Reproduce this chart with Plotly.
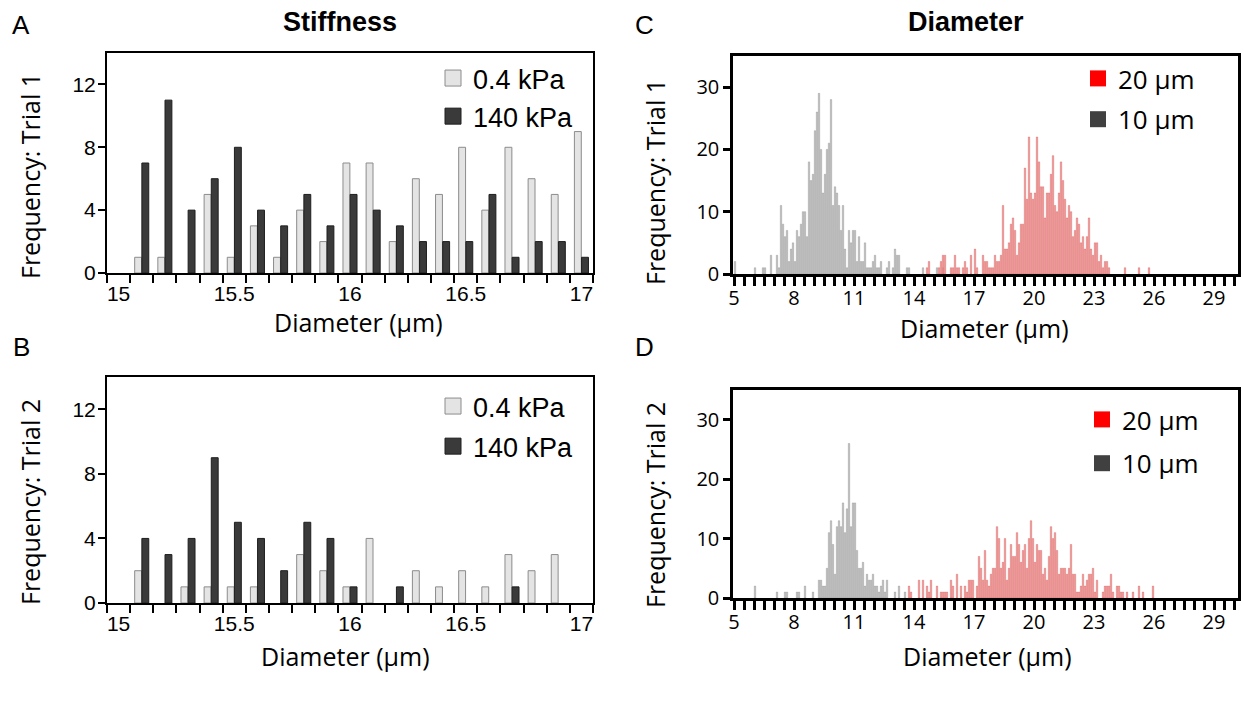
import plotly.graph_objects as go

W, H = 1244, 704

# ---------------- data ----------------
stiffness_bins = [15.0, 15.1, 15.2, 15.3, 15.4, 15.5, 15.6, 15.7, 15.8, 15.9, 16.0,
                  16.1, 16.2, 16.3, 16.4, 16.5, 16.6, 16.7, 16.8, 16.9, 17.0]
stiff_tick_vals = [15, 15.5, 16, 16.5, 17]
stiff_tick_text = ["15", "15.5", "16", "16.5", "17"]

trial1_soft = [0, 1, 1, 0, 5, 1, 3, 1, 4, 2, 7, 7, 2, 6, 5, 8, 4, 8, 6, 5, 9]
trial1_stiff = [0, 7, 11, 4, 6, 8, 4, 3, 5, 3, 5, 4, 3, 2, 2, 2, 5, 1, 2, 2, 1]
trial2_soft = [0, 2, 0, 1, 1, 1, 1, 0, 3, 2, 1, 4, 0, 2, 1, 2, 1, 3, 2, 3, 0]
trial2_stiff = [0, 4, 3, 4, 9, 5, 4, 2, 5, 4, 1, 0, 1, 0, 0, 0, 0, 1, 0, 0, 0]

# diameter histograms: 0.1 um bins, first bin centre given
bin_step = 0.1
t1_10um_start = 5.05
t1_10um = [2, 0, 0, 0, 0, 0, 0, 0, 0, 0, 1, 0, 0, 0, 1, 1, 0, 0, 3, 0, 0, 3, 1,
           11, 8, 6, 7, 2, 4, 5, 2, 7, 6, 8, 10, 10, 6, 18, 15, 16, 23, 26, 29, 20,
           13, 16, 20, 21, 28, 11, 14, 13, 11, 7, 11, 4, 1, 7, 5, 7, 7, 2, 6, 2, 2,
           5, 1, 1, 1, 2, 3, 1, 1, 2, 0, 0, 1, 2, 0, 1, 4, 3, 3, 0, 0, 0, 1, 1, 0, 0,
           0, 0, 0, 0, 1, 0, 0, 0, 0, 0, 0, 1, 0, 0, 1]
t1_20um_start = 14.05
t1_20um = [0, 0, 0, 0, 0, 0, 1, 2, 0, 0, 0, 0, 1, 2, 3, 3, 0, 0, 1, 1, 3, 1, 1, 0,
           1, 2, 1, 0, 3, 0, 4, 1, 0, 0, 3, 2, 2, 1, 1, 1, 3, 2, 2, 3,
           11, 4, 4, 5, 8, 9, 7, 3, 5, 8, 8, 17, 12, 22, 13, 12, 13, 22, 18, 14,
           14, 9, 13, 13, 16, 19, 11, 10, 13, 18, 15, 12, 9, 11, 10, 6, 7, 9, 8, 5,
           6, 4, 6, 9, 4, 3, 5, 5, 2, 3, 1, 2, 2, 1,
           0, 0, 0, 0, 0, 0, 0, 1, 0, 0, 0, 0, 0, 0, 1, 0, 0, 0, 0, 1]
t2_10um_start = 6.05
t2_10um = [2, 0, 0, 0, 0, 0, 0, 0, 0, 0, 0, 1, 0, 0, 0, 1, 1, 0, 0, 0, 0, 1, 1, 0,
           0, 2, 0, 0, 0, 1, 0, 0, 3, 3, 2, 2, 5, 11, 13, 9, 4, 12, 13, 12, 16, 11,
           15, 26, 12, 16, 16, 8, 5, 5, 6, 2, 4, 3, 3, 4, 2, 2, 1, 2, 3, 1, 3, 0, 0,
           0, 1, 0, 2, 0, 0, 1]
t2_20um_start = 13.75
t2_20um = [2, 1, 0, 0, 0, 3, 0, 3, 0, 2, 1, 3, 0, 0, 2, 0, 1, 1, 1, 1, 0, 3, 2, 0,
           4, 0, 2, 0, 2, 1, 3, 3, 3, 0, 2, 7, 5, 3, 8, 3, 2, 4, 5, 5, 12, 10, 5, 6,
           10, 3, 5, 9, 7, 7, 11, 9, 6, 8, 9, 5, 10, 13, 10, 6, 9, 8, 8, 4, 5, 3, 7,
           12, 10, 11, 8, 4, 5, 5, 5, 4, 5, 9, 4, 4, 1, 1, 2, 4, 2, 3, 4, 4, 5, 1, 3,
           0, 0, 1, 2, 2, 2, 4, 1, 0, 2, 2, 1, 1, 0, 1, 0, 0, 1, 0, 0, 2, 0, 1, 0, 0,
           0, 0, 2]
diam_tick0 = 5
diam_dtick = 3

# ---------------- helpers ----------------
def centres(start, counts):
    return [round(start + bin_step * i, 3) for i in range(len(counts))]

def nz(vals):
    return [v if v else None for v in vals]

def px_x(p):
    return p / W

def px_y(p):
    return 1 - p / H

LIGHT, LIGHT_EDGE = "#e4e4e4", "#8c8c8c"
DARK, DARK_EDGE = "#3a3a3a", "#1e1e1e"
RED_FILL, RED_EDGE = "#f0a6a6", "#dc4a4a"
GRAY_FILL, GRAY_EDGE = "#c4c4c4", "#8a8a8a"

fig = go.Figure()

# ---------------- panels A / B ----------------
for ax, soft, stiff, leg in [("", trial1_soft, trial1_stiff, "legend"),
                             ("2", trial2_soft, trial2_stiff, "legend2")]:
    fig.add_trace(go.Bar(x=stiffness_bins, y=nz(soft), name="0.4 kPa",
                         marker=dict(color=LIGHT, line=dict(color=LIGHT_EDGE, width=1)),
                         xaxis="x" + ax, yaxis="y" + ax, showlegend=False))
    fig.add_trace(go.Bar(x=stiffness_bins, y=nz(stiff), name="140 kPa",
                         marker=dict(color=DARK, line=dict(color=DARK_EDGE, width=1)),
                         xaxis="x" + ax, yaxis="y" + ax, showlegend=False))
    fig.add_trace(go.Scatter(x=[None], y=[None], mode="markers", name="0.4 kPa",
                             marker=dict(symbol="square", size=16, color=LIGHT,
                                         line=dict(color=LIGHT_EDGE, width=1)),
                             xaxis="x" + ax, yaxis="y" + ax, legend=leg,
                             legendgroup=leg + "a"))
    fig.add_trace(go.Scatter(x=[None], y=[None], mode="markers", name="140 kPa",
                             marker=dict(symbol="square", size=16, color=DARK,
                                         line=dict(color=DARK_EDGE, width=1)),
                             xaxis="x" + ax, yaxis="y" + ax, legend=leg,
                             legendgroup=leg + "b"))

# ---------------- panels C / D ----------------
for ax, s10, v10, s20, v20, leg in [("3", t1_10um_start, t1_10um, t1_20um_start, t1_20um, "legend3"),
                                    ("4", t2_10um_start, t2_10um, t2_20um_start, t2_20um, "legend4")]:
    fig.add_trace(go.Bar(x=centres(s10, v10), y=nz(v10), name="10 µm", width=0.07,
                         offsetgroup="d" + ax,
                         marker=dict(color=GRAY_FILL, line=dict(color=GRAY_EDGE, width=0.4)),
                         xaxis="x" + ax, yaxis="y" + ax, showlegend=False))
    fig.add_trace(go.Bar(x=centres(s20, v20), y=nz(v20), name="20 µm", width=0.07,
                         offsetgroup="d" + ax,
                         marker=dict(color=RED_FILL, line=dict(color=RED_EDGE, width=0.4)),
                         xaxis="x" + ax, yaxis="y" + ax, showlegend=False))
    fig.add_trace(go.Scatter(x=[None], y=[None], mode="markers", name="20 µm",
                             marker=dict(symbol="square", size=16, color="#ff0000"),
                             xaxis="x" + ax, yaxis="y" + ax, legend=leg,
                             legendgroup=leg + "a"))
    fig.add_trace(go.Scatter(x=[None], y=[None], mode="markers", name="10 µm",
                             marker=dict(symbol="square", size=16, color="#404040"),
                             xaxis="x" + ax, yaxis="y" + ax, legend=leg,
                             legendgroup=leg + "b"))

# ---------------- axes ----------------
ARIAL = "Liberation Sans, Arial, sans-serif"
SANS = "Open Sans, Noto Sans, sans-serif"
tick_font_ab = dict(family=ARIAL, size=21, color="black")
tick_font_cd = dict(family=SANS, size=20, color="black")
xtitle_font = dict(family=SANS, size=25, color="black")
ytitle_font = dict(family=SANS, size=25, color="black")

boundaries = [round(b - 0.05, 3) for b in stiffness_bins] + [round(stiffness_bins[-1] + 0.05, 3)]

def stiff_xaxis(ya):
    return dict(domain=[px_x(107), px_x(593)], range=[14.95, 17.05], anchor=ya,
                tickmode="array", tickvals=stiff_tick_vals, ticktext=stiff_tick_text,
                ticks="outside", ticklen=3, tickcolor="rgba(0,0,0,0)", tickwidth=2,
                minor=dict(tickmode="array", tickvals=boundaries, ticks="outside",
                           ticklen=8, tickwidth=2, tickcolor="black", showgrid=False),
                ticklabelstandoff=-2,
                showline=True, mirror=True, linecolor="black", linewidth=2,
                showgrid=False, zeroline=False, tickfont=tick_font_ab,
                automargin=False, fixedrange=True)

def stiff_yaxis(y_bottom, y_top, xa):
    return dict(domain=[px_y(y_bottom), px_y(y_top)], range=[0, 14],
                tickmode="array", tickvals=[0, 4, 8, 12], ticks="outside", ticklen=7,
                tickwidth=2, tickcolor="black", showline=True, mirror=True,
                linecolor="black", linewidth=2, showgrid=False, zeroline=False,
                ticklabelstandoff=-2,
                tickfont=tick_font_ab, anchor=xa, automargin=False, fixedrange=True)

def diam_xaxis(ya):
    return dict(domain=[px_x(733), px_x(1238)], range=[4.95, 30.2], anchor=ya,
                tickmode="linear", tick0=diam_tick0, dtick=diam_dtick,
                ticks="outside", ticklen=9, tickwidth=2.5, tickcolor="black",
                minor=dict(tick0=diam_tick0, dtick=0.5, ticks="outside", ticklen=9,
                           tickwidth=2.5, tickcolor="black", showgrid=False),
                ticklabelstandoff=-5,
                showline=True, mirror=True, linecolor="black", linewidth=2.5,
                showgrid=False, zeroline=False, tickfont=tick_font_cd,
                automargin=False, fixedrange=True)

def diam_yaxis(y_bottom, y_top, xa):
    return dict(domain=[px_y(y_bottom), px_y(y_top)], range=[0, 35],
                tickmode="array", tickvals=[0, 10, 20, 30], ticks="outside", ticklen=7,
                tickwidth=2.5, tickcolor="black", showline=True, mirror=True,
                linecolor="black", linewidth=2.5, showgrid=False, zeroline=False,
                tickfont=tick_font_cd, anchor=xa, automargin=False, fixedrange=True)

def legend_cfg(x, y_top, family, size, gap):
    return dict(x=px_x(x), y=px_y(y_top), xanchor="left", yanchor="top",
                bgcolor="rgba(0,0,0,0)", font=dict(family=family, size=size, color="black"),
                tracegroupgap=gap, itemwidth=30)

annotations = [
    dict(text="A", x=21, y=25, font=dict(family=ARIAL, size=26)),
    dict(text="B", x=21, y=347, font=dict(family=ARIAL, size=26)),
    dict(text="C", x=644, y=25, font=dict(family=ARIAL, size=26)),
    dict(text="D", x=644, y=347, font=dict(family=ARIAL, size=26)),
    dict(text="<b>Stiffness</b>", x=340, y=22, font=dict(family=ARIAL, size=27)),
    dict(text="<b>Diameter</b>", x=966, y=22, font=dict(family=ARIAL, size=27)),
    # axis titles
    dict(text="Diameter (µm)", x=358, y=322, font=xtitle_font),
    dict(text="Diameter (µm)", x=345, y=656, font=xtitle_font),
    dict(text="Diameter (µm)", x=984, y=328, font=xtitle_font),
    dict(text="Diameter (µm)", x=988, y=656, font=xtitle_font),
    dict(text="Frequency: Trial 1", x=30, y=176, textangle=-90, font=ytitle_font),
    dict(text="Frequency: Trial 2", x=30, y=502, textangle=-90, font=ytitle_font),
    dict(text="Frequency: Trial 1", x=655, y=182, textangle=-90, font=ytitle_font),
    dict(text="Frequency: Trial 2", x=655, y=505, textangle=-90, font=ytitle_font),
]
for a in annotations:
    a.update(x=px_x(a["x"]), y=px_y(a["y"]), xref="paper", yref="paper",
             xanchor="center", yanchor="middle", showarrow=False)

fig.update_layout(
    width=W, height=H, margin=dict(l=0, r=0, t=0, b=0, autoexpand=False),
    paper_bgcolor="white", plot_bgcolor="white",
    font=dict(family=ARIAL, color="black"),
    barmode="group", bargap=0.38, bargroupgap=0.04,
    xaxis=stiff_xaxis("y"), yaxis=stiff_yaxis(273, 53, "x"),
    xaxis2=stiff_xaxis("y2"), yaxis2=stiff_yaxis(603, 377, "x2"),
    xaxis3=diam_xaxis("y3"), yaxis3=diam_yaxis(274, 56, "x3"),
    xaxis4=diam_xaxis("y4"), yaxis4=diam_yaxis(598, 390, "x4"),
    legend=legend_cfg(433, 54, ARIAL, 27, 0),
    legend2=legend_cfg(433, 382, ARIAL, 27, 2),
    legend3=legend_cfg(1078, 55, SANS, 26, 4),
    legend4=legend_cfg(1082, 396, SANS, 26, 7),
    annotations=annotations,
)

fig.write_html("out.html", config={"displayModeBar": False},
               post_script="document.body.style.margin='0px';")
